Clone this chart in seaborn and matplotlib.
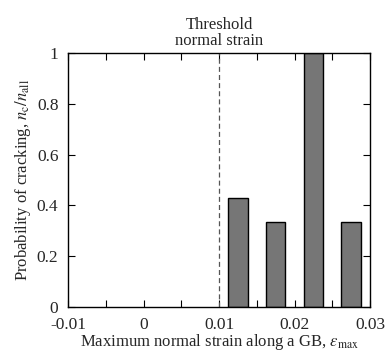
import matplotlib
matplotlib.use("Agg")
import matplotlib.pyplot as plt
import seaborn as sns
import pandas as pd
from matplotlib.ticker import MultipleLocator

strain_centers = [0.0125, 0.0175, 0.0225, 0.0275]
probability = [0.43, 0.333, 1.0, 0.333]
x_ticks = [-0.01, 0.0, 0.01, 0.02, 0.03]
x_tick_labels = ["-0.01", "0", "0.01", "0.02", "0.03"]
y_ticks = [0, 0.2, 0.4, 0.6, 0.8, 1.0]
y_tick_labels = ["0", "0.2", "0.4", "0.6", "0.8", "1"]
threshold = 0.01

sns.set_theme(style="ticks")
plt.rcParams['font.family'] = ['Liberation Serif', 'DejaVu Serif']
plt.rcParams['mathtext.fontset'] = 'stix'

fig = plt.figure(figsize=(3.85, 3.55), dpi=100)
ax = fig.add_axes([0.177, 0.135, 0.784, 0.716])

df = pd.DataFrame({"strain": strain_centers, "prob": probability})
sns.barplot(data=df, x="strain", y="prob", native_scale=True, width=0.52,
            color="#767676", saturation=1, edgecolor="black", linewidth=1.0, ax=ax)

ax.axvline(threshold, color="#555555", linestyle=(0, (4, 2.5)), linewidth=0.9)

ax.set_xlim(-0.01, 0.03)
ax.set_ylim(0, 1)
ax.set_xticks(x_ticks)
ax.set_xticklabels(x_tick_labels)
ax.xaxis.set_minor_locator(MultipleLocator(0.005))
ax.set_yticks(y_ticks)
ax.set_yticklabels(y_tick_labels)

ax.tick_params(which="both", direction="in", top=True, right=True, labelsize=12.5,
               color="black", width=0.8)
ax.tick_params(which="major", length=5)
ax.tick_params(axis="x", which="major", pad=7.5)
ax.tick_params(axis="y", which="major", pad=7)
ax.tick_params(which="minor", length=5)
for s in ax.spines.values():
    s.set_color("black")
    s.set_linewidth(1.0)

ax.set_xlabel(r"Maximum normal strain along a GB, $\varepsilon_{\mathrm{max}}$", fontsize=12, labelpad=-1)
ax.set_ylabel(r"Probability of cracking, $n_{\mathrm{c}}/n_{\mathrm{all}}$", fontsize=12, labelpad=3)

ax.text(threshold, 1.015, "Threshold\nnormal strain", transform=ax.get_xaxis_transform(),
        ha="center", va="bottom", fontsize=12, linespacing=1.0)

fig.savefig("out.png", dpi=100)
